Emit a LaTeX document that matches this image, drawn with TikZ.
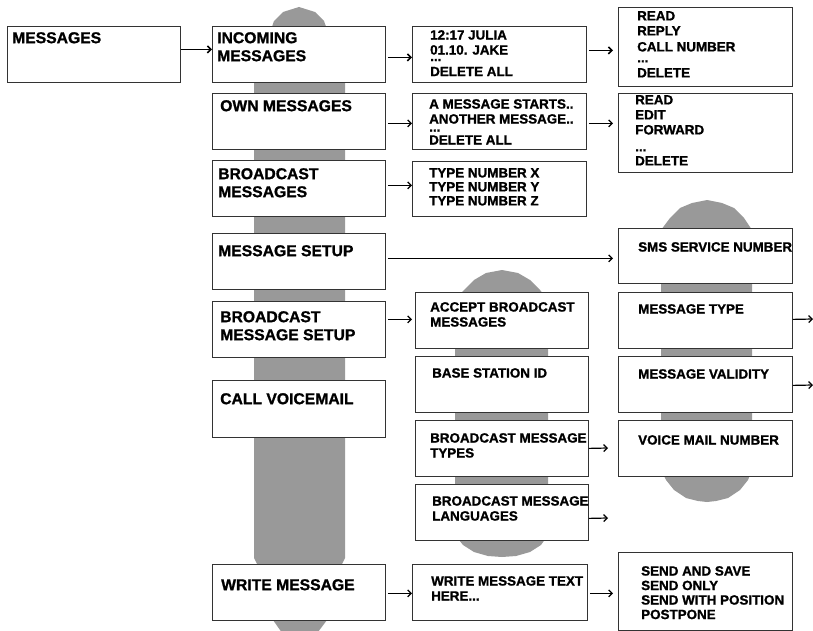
\documentclass[tikz,border=0pt]{standalone}
\usepackage{fontspec}
\setmainfont{Liberation Sans}
\newfontfamily\diafont{Liberation Sans Bold}[FakeBold=1.2]
\usepackage{tikz}
\usetikzlibrary{arrows.meta,positioning}
\definecolor{bargray}{RGB}{153,153,153}

\begin{document}
\begin{tikzpicture}[
  x=1pt, y=-1pt,
  bar/.style={fill=bargray, draw=none},
  box/.style={draw=black!80, fill=white, line width=.8pt, anchor=north west, inner sep=0, minimum width=173pt, minimum height=56pt},
  tall/.style={box, minimum height=79pt},
  lbl/.style={anchor=north west, inner sep=0, align=left, font=\diafont\fontsize{15.7}{18}\selectfont},
  lbls/.style={lbl, font=\diafont\fontsize{13.4}{15}\selectfont},
  edg/.style={-{Straight Barb[length=3.5pt,width=7pt]}, line width=1.2pt},
  edgt/.style={edg, line width=1.6pt}
]
\useasboundingbox (0,0) rectangle (813,631);
% gray bars behind the columns
\fill[bar] (299,7) -- (315,12) -- (324,21) -- (345,80) -- (345,558) -- (341,566) -- (327,620) -- (312,640)
  -- (287,640) -- (273,620) -- (258,566) -- (254,558) -- (254,80) -- (274,21) -- (283,12) -- cycle;
\fill[bar] (502,270) -- (518,273) -- (530,280) -- (540,290) -- (548,300) -- (548,535) -- (541,545) -- (530,552)
  -- (516,556) -- (502,557) -- (488,556) -- (474,552) -- (463,545) -- (455,535) -- (455,300) -- (464,290)
  -- (474,280) -- (486,273) -- cycle;
\fill[bar] (707,200) -- (722,203) -- (734,208) -- (744,218) -- (752,230) -- (752,470) -- (748,480) -- (740,490)
  -- (728,498) -- (716,501) -- (707,502) -- (698,501) -- (686,498) -- (674,490) -- (666,480) -- (661,470)
  -- (661,230) -- (670,218) -- (680,208) -- (692,203) -- cycle;
% first and second level
\node[box] (MSG) at (7,26) {};
\node[box] (INC) at (212,26) {};
\node[box] (OWN) at (212,93) {};
\node[box] (BRC) at (212,160) {};
\node[box] (SET) at (212,233) {};
\node[box] (BSET) at (212,301) {};
\node[box, minimum height=57pt] (VMAIL) at (212,380) {};
\node[box] (WRT) at (212,564) {};
\node[lbl] (MSGt) at (12,32) {MESSAGES};
\node[lbl] (INCt) at (217,32) {INCOMING\\MESSAGES};
\node[lbl] (OWNt) at (220,100) {OWN MESSAGES};
\node[lbl] (BRCt) at (218,168) {BROADCAST\\MESSAGES};
\node[lbl] (SETt) at (218,245) {MESSAGE SETUP};
\node[lbl] (BSETt) at (220,311) {BROADCAST\\MESSAGE SETUP};
\node[lbl] (VMAILt) at (220,393) {CALL VOICEMAIL};
\node[lbl] (WRTt) at (221,579) {WRITE MESSAGE};
% third level
\node[box, minimum width=174pt] (INCl) at (412,26) {};
\node[box, minimum width=174pt] (OWNl) at (412,93) {};
\node[box, minimum width=174pt, minimum height=55pt] (BRCl) at (412,161) {};
\node[box] (ACC) at (415,292) {};
\node[box] (BSID) at (415,356) {};
\node[box] (BTYP) at (415,420) {};
\node[box] (BLNG) at (415,484) {};
\node[box, minimum width=175pt] (WTXT) at (412,564) {};
\node[lbls] (INClt) at (430,30) {12:17 JULIA\\01.10. JAKE\\[-8.5pt]...\\DELETE ALL};
\node[lbls] (OWNlt) at (429,99) {A MESSAGE STARTS..\\ANOTHER MESSAGE..\\[-7pt]...\\[-2pt]DELETE ALL};
\node[lbls] (BRClt) at (429,168) {TYPE NUMBER X\\[-1pt]TYPE NUMBER Y\\[-1pt]TYPE NUMBER Z};
\node[lbls] (ACCt) at (430,302) {ACCEPT BROADCAST\\MESSAGES};
\node[lbls] (BSIDt) at (432,368) {BASE STATION ID};
\node[lbls] (BTYPt) at (430,433) {BROADCAST MESSAGE\\TYPES};
\node[lbls] (BLNGt) at (432,496) {BROADCAST MESSAGE\\LANGUAGES};
\node[lbls] (WTXTt) at (431,576) {WRITE MESSAGE TEXT\\HERE...};
% fourth level
\node[tall, minimum width=174pt] (INCo) at (618,7) {};
\node[tall, minimum width=174pt] (OWNo) at (618,93) {};
\node[box, minimum width=174pt, minimum height=55pt] (SMS) at (618,228) {};
\node[box, minimum width=174pt] (MTYP) at (618,292) {};
\node[box, minimum width=174pt] (MVAL) at (618,356) {};
\node[box, minimum width=174pt] (VMN) at (618,420) {};
\node[tall, minimum width=174pt, minimum height=78pt] (SEND) at (618,552) {};
\node[lbls] (INCot) at (637,11) {READ\\REPLY\\[1pt]CALL NUMBER\\[-4pt]...\\DELETE};
\node[lbls] (OWNot) at (635,95) {READ\\EDIT\\FORWARD\\[2pt]...\\[-1pt]DELETE};
\node[lbls] (SMSt) at (638,242) {SMS SERVICE NUMBER};
\node[lbls] (MTYPt) at (638,304) {MESSAGE TYPE};
\node[lbls] (MVALt) at (638,369) {MESSAGE VALIDITY};
\node[lbls] (VMNt) at (638,435) {VOICE MAIL NUMBER};
\node[lbls] (SENDt) at (641,566) {SEND AND SAVE\\[-.5pt]SEND ONLY\\[-.5pt]SEND WITH POSITION\\[-.5pt]POSTPONE};
\coordinate (BTYPx) at (608,448);
\coordinate (BLNGx) at (608,518);
\coordinate (MTYPx) at (813,319);
\coordinate (MVALx) at (813,385);
\draw[edgt] ([yshift=5pt]MSG.east) -- ([yshift=5pt]INC.west);
\draw[edgt, shorten <=2pt] ([yshift=-3pt]INC.east) -- ([yshift=-3pt]INCl.west);
\draw[edg, shorten <=2pt] ([yshift=-2pt]OWN.east) -- ([yshift=-2pt]OWN.east -| OWNl.west);
\draw[edg, shorten <=2pt] ([yshift=3pt]BRC.east) -- ([yshift=3pt]BRC.east -| BRCl.west);
\draw[edgt, shorten <=2pt, shorten >=5pt] ([yshift=4pt]INCl.east) -- ([yshift=4pt]INCl.east -| INCo.west);
\draw[edg, shorten <=2pt, shorten >=5pt] ([yshift=-2pt]OWNl.east) -- ([yshift=-2pt]OWNl.east -| OWNo.west);
\draw[edg, shorten <=2pt, shorten >=5pt] ([yshift=3pt]SET.east) -- ([yshift=3pt]SET.east -| SMS.west);
\draw[edg, shorten <=2pt, shorten >=3pt] ([yshift=10pt]BSET.east) -- ([yshift=10pt]BSET.east -| ACC.west);
\draw[edg] (BTYP.east) -- (BTYPx);
\draw[edg] ([yshift=-6pt]BLNG.east) -- (BLNGx);
\draw[edg] ([yshift=1pt]MTYP.east) -- (MTYPx);
\draw[edg] ([yshift=-1pt]MVAL.east) -- (MVALx);
\draw[edg, shorten <=2pt] ([yshift=-1pt]WRT.east) -- ([yshift=-1pt]WRT.east -| WTXT.west);
\draw[edg, shorten <=2pt, shorten >=5pt] ([yshift=-1pt]WTXT.east) -- ([yshift=-1pt]WTXT.east -| SEND.west);
\end{tikzpicture}
\end{document}
